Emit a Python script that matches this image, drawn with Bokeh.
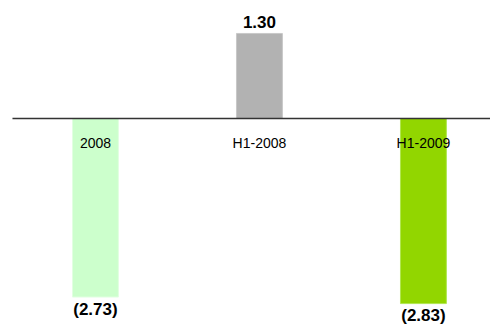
from bokeh.plotting import figure
from bokeh.models import ColumnDataSource, Range1d
from bokeh.core.properties import value
from bokeh.embed import file_html
from bokeh.resources import INLINE

# Chart data
categories = ["2008", "H1-2008", "H1-2009"]
values = [-2.73, 1.30, -2.83]
value_labels = ["(2.73)", "1.30", "(2.83)"]
colors = ["#CCFFCC", "#B2B2B2", "#92D600"]
outlines = ["#E2FFE2", "#C8C8C8", "#B0E650"]

xs = list(range(len(categories)))
src = ColumnDataSource(dict(
    x=xs, top=[max(v, 0) for v in values], bottom=[min(v, 0) for v in values],
    val=values, lab=value_labels, cat=categories, color=colors, outline=outlines,
))

p = figure(width=490, height=325, output_backend="svg", toolbar_location=None,
           x_range=Range1d(-0.579, 2.409), y_range=Range1d(-3.165, 1.804),
           min_border=0, outline_line_color=None)
p.axis.visible = False
p.grid.visible = False
p.background_fill_color = "white"
p.border_fill_color = "white"

p.vbar(x="x", width=0.28, top="top", bottom="bottom", fill_color="color",
       line_color="outline", line_width=1, source=src)

# zero line
p.segment(x0=[-0.506], y0=[0], x1=[2.6], y1=[0], line_color="#333333", line_width=1.6)

# category labels just under the zero line
p.text(x="x", y=-0.38, text="cat", source=src, text_font=value("Liberation Sans"),
       text_font_size="14px", text_align="center", text_baseline="middle",
       text_color="#000000")

# value labels beyond the end of each bar
pos = ColumnDataSource(dict(x=[x for x, v in zip(xs, values) if v >= 0],
                            y=[v for v in values if v >= 0],
                            t=[l for l, v in zip(value_labels, values) if v >= 0]))
neg = ColumnDataSource(dict(x=[x for x, v in zip(xs, values) if v < 0],
                            y=[v for v in values if v < 0],
                            t=[l for l, v in zip(value_labels, values) if v < 0]))
for s, off in ((pos, -11), (neg, 12)):
    p.text(x="x", y="y", text="t", source=s, y_offset=off,
           text_font=value("Liberation Sans"), text_font_style="bold",
           text_font_size="17px", text_align="center", text_baseline="middle",
           text_color="#000000")

open("out.html", "w").write(file_html(p, INLINE))
